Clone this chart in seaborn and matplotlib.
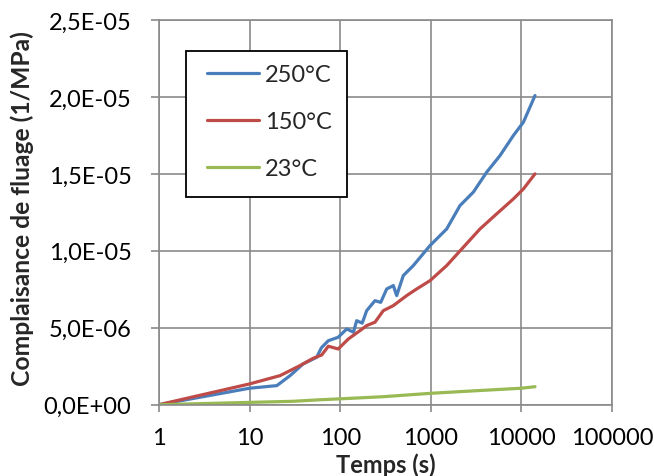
import pandas as pd
import matplotlib
matplotlib.use('Agg')
import matplotlib.pyplot as plt
import matplotlib.patches as mpatches
import seaborn as sns

# Values
t_250 = [1, 10, 20, 28, 39, 55, 62, 74, 95, 118, 140, 152, 175, 196, 242, 280,
         326, 386, 420, 497, 641, 980, 1497, 2100, 2945, 4140, 5806, 8150,
         10520, 14130]
j_250 = [0, 1.07, 1.24, 1.89, 2.65, 3.08, 3.7, 4.16, 4.38, 4.92, 4.71, 5.46,
         5.3, 6.11, 6.76, 6.65, 7.52, 7.74, 7.09, 8.39, 9.04, 10.34, 11.42,
         12.94, 13.81, 15.11, 16.19, 17.49, 18.36, 20.09]

t_150 = [1, 10, 21.7, 36, 50.5, 62.5, 74, 95, 123, 165, 196, 242, 299, 386,
         542, 698, 980, 1497, 2285, 3490, 5330, 8150, 10520, 14130]
j_150 = [0, 1.35, 1.89, 2.54, 3.02, 3.23, 3.8, 3.62, 4.27, 4.81, 5.14, 5.36,
         6.11, 6.44, 7.09, 7.52, 8.06, 9.04, 10.23, 11.42, 12.40, 13.37,
         14.02, 15.0]

t_23 = [1, 10, 30, 60, 100, 300, 1000, 3000, 10000, 14130]
j_23 = [0, 0.15, 0.22, 0.32, 0.38, 0.52, 0.74, 0.9, 1.07, 1.17]

labels = ['250°C', '150°C', '23°C']
colors = ['#4A7EBB', '#BE4B48', '#98B954']
x_ticks = [1, 10, 100, 1000, 10000, 100000]
y_ticks = [0, 5e-6, 1e-5, 1.5e-5, 2e-5, 2.5e-5]

# Build a long table for seaborn (compliance in 1/MPa)
frames = []
for lab, t, j in zip(labels, [t_250, t_150, t_23], [j_250, j_150, j_23]):
    frames.append(pd.DataFrame({'t': t, 'J': [v * 1e-6 for v in j], 'serie': lab}))
df = pd.concat(frames, ignore_index=True)

grey = '#8a8a8a'
fs = 17
sns.set_style('white')
plt.rcParams.update({
    'font.family': ['Lato', 'DejaVu Sans'],
    'xtick.bottom': True, 'ytick.left': True,
    'xtick.direction': 'out', 'ytick.direction': 'out',
    'xtick.major.size': 5, 'ytick.major.size': 5.8,
    'xtick.major.width': 1.2, 'ytick.major.width': 1.2,
    'xtick.major.pad': 11, 'ytick.major.pad': 14,
    'xtick.color': grey, 'ytick.color': grey,
    'xtick.labelcolor': 'black', 'ytick.labelcolor': 'black',
    'xtick.labelsize': fs, 'ytick.labelsize': fs,
})

fig = plt.figure(figsize=(6.54, 4.77), dpi=100)
ax = fig.add_axes([0.2431, 0.1495, 0.6927, 0.8065])

sns.lineplot(data=df, x='t', y='J', hue='serie', hue_order=labels,
             palette=colors, estimator=None, sort=False, linewidth=2.3, ax=ax)

ax.set_xscale('log')
ax.set_xlim(1, 100000)
ax.set_ylim(0, 2.5e-5)
ax.set_xticks(x_ticks)
ax.set_yticks(y_ticks)
ax.minorticks_off()
ax.set_xticklabels([f'{v:g}' for v in x_ticks])
ax.set_yticklabels([f'{v:.1E}'.replace('.', ',') for v in y_ticks])

ax.grid(True, color=grey, linewidth=1.2)
for s in ax.spines.values():
    s.set_color(grey)
    s.set_linewidth(1.2)

ax.set_xlabel('Temps (s)', fontsize=fs, fontweight='bold')
ax.set_ylabel('Complaisance de fluage (1/MPa)', fontsize=17.7, fontweight='bold')
ax.xaxis.set_label_coords(0.5, -0.125)
ax.yaxis.set_label_coords(-0.275, 0.513)

# legend box drawn separately so its padding can match the original
W, H = 654, 477
box = mpatches.Rectangle((186 / W, 1 - 198 / H), 161 / W, 146 / H,
                         transform=fig.transFigure, facecolor='white',
                         edgecolor='black', linewidth=1.3, zorder=4.5,
                         clip_on=False)
ax.add_patch(box)
leg = ax.legend(loc='upper left', bbox_to_anchor=(207 / W, 1 - 65 / H),
                bbox_transform=fig.transFigure, borderaxespad=0, fontsize=fs,
                frameon=False, handlelength=2.2, handletextpad=0.25,
                labelspacing=1.1, borderpad=0)
leg.set_zorder(5)

fig.savefig('out.png', dpi=100)
